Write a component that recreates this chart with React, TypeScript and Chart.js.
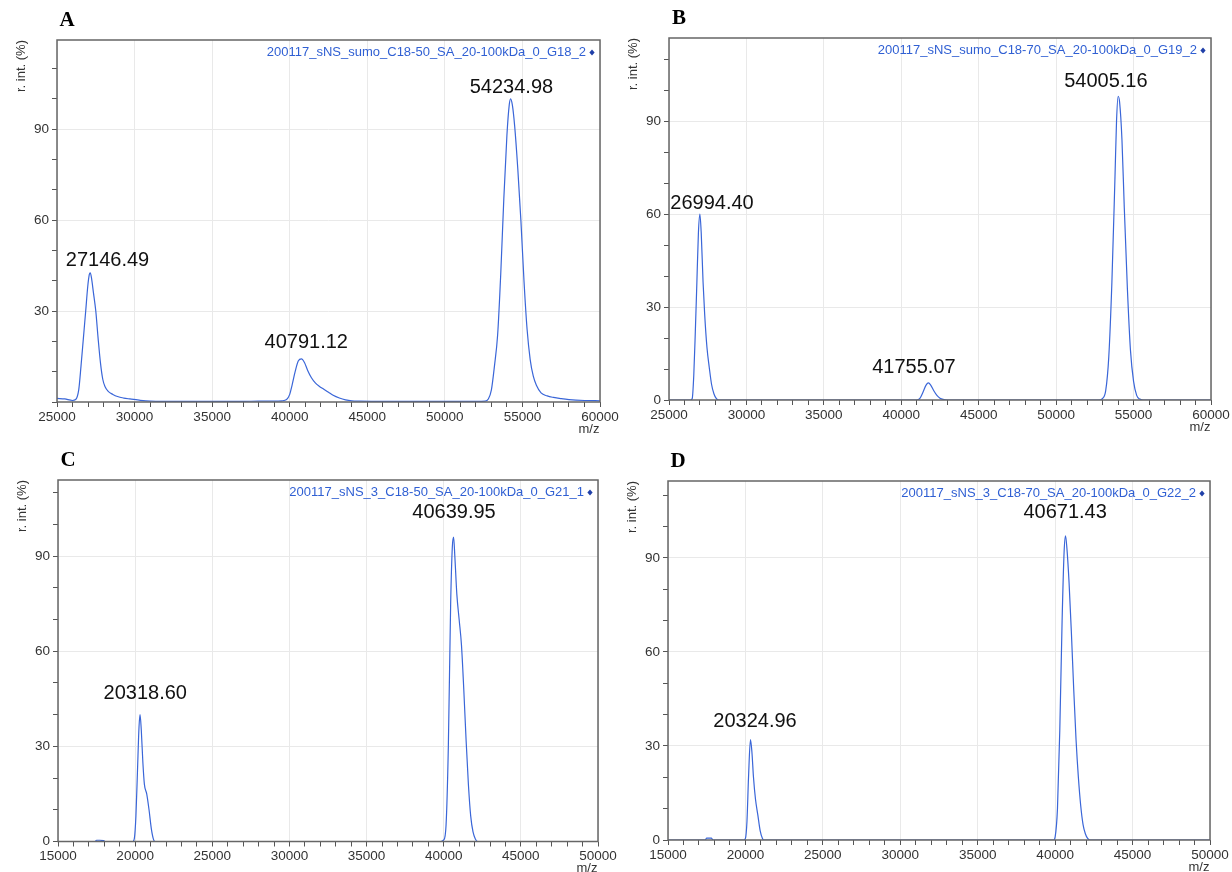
import React, { useEffect, useRef } from 'react';
import { Chart, registerables } from 'chart.js';
Chart.register(...registerables);

// ---------- Data ----------
const A_mz = [25000, 25500, 26000, 26200, 26400, 26550, 26700, 26850, 26980, 27080, 27146, 27220, 27350, 27500, 27650, 27800, 27950, 28100, 28300, 28600, 28900, 29300, 29700, 30300, 31000, 33000, 35000, 37000, 38000, 39000, 39500, 39800, 40000, 40150, 40350, 40550, 40760, 40950, 41150, 41400, 41650, 41900, 42200, 42500, 42800, 43200, 43600, 44000, 44500, 46000, 48000, 50000, 52000, 52600, 52800, 53000, 53200, 53400, 53600, 53800, 54000, 54150, 54235, 54350, 54500, 54700, 54900, 55100, 55300, 55500, 55700, 55900, 56200, 56600, 57000, 57500, 58000, 59000, 60000];
const A_int = [1.2, 1.0, 0.5, 0.8, 4, 12, 21, 30, 38, 42, 42.6, 41, 36, 30, 21, 13, 7.5, 5, 3.5, 2.5, 1.8, 1.3, 1.0, 0.6, 0.3, 0.2, 0.2, 0.2, 0.3, 0.3, 0.4, 0.8, 2.5, 5.5, 10, 13.5, 14.2, 13, 10.5, 8, 6.3, 5.2, 4.2, 3.2, 2.2, 1.3, 0.7, 0.4, 0.3, 0.2, 0.2, 0.2, 0.2, 0.3, 1, 4, 12, 22, 42, 67, 88, 98, 100, 98, 91, 77, 60, 40, 24, 14, 8.5, 5.5, 3, 2, 1.5, 1.1, 0.8, 0.5, 0.4];

const B_mz = [25000, 26400, 26500, 26600, 26700, 26800, 26900, 26994, 27080, 27200, 27300, 27450, 27600, 27750, 27900, 28050, 28200, 41000, 41200, 41400, 41600, 41755, 41900, 42100, 42300, 42500, 42700, 43000, 52800, 53000, 53200, 53400, 53600, 53800, 53900, 54005, 54100, 54250, 54400, 54600, 54800, 55000, 55200, 55400, 55600, 60000];
const B_int = [0, 0, 0.5, 8, 22, 38, 54, 60, 54, 38, 28, 17, 10.5, 5, 2, 0.5, 0, 0, 0.5, 2.5, 4.8, 5.5, 4.8, 3, 1.5, 0.6, 0.2, 0, 0, 0.5, 3, 14, 38, 72, 90, 98, 96, 84, 62, 36, 16, 6, 1.5, 0.3, 0, 0];

const C_mz = [15000, 17400, 17500, 17700, 17950, 18050, 19850, 19950, 20050, 20150, 20250, 20318, 20400, 20500, 20600, 20750, 20900, 21050, 21200, 21300, 39800, 40000, 40150, 40300, 40450, 40560, 40640, 40720, 40850, 41000, 41150, 41300, 41450, 41600, 41750, 41900, 42050, 42200, 50000];
const C_int = [0, 0, 0.4, 0.4, 0.3, 0, 0, 1, 8, 22, 36, 40, 35, 25, 18, 15, 10, 4, 0.5, 0, 0, 0.5, 5, 30, 75, 93, 96, 90, 78, 70, 62, 48, 32, 18, 8, 3, 0.8, 0, 0];

const D_mz = [15000, 17400, 17500, 17800, 17900, 19900, 20000, 20100, 20200, 20325, 20420, 20520, 20650, 20800, 20950, 21100, 21200, 39900, 40000, 40150, 40300, 40450, 40580, 40671, 40760, 40900, 41050, 41200, 41350, 41500, 41650, 41800, 41950, 42100, 42250, 50000];
const D_int = [0, 0, 0.6, 0.6, 0, 0, 0.5, 6, 20, 32, 28, 20, 13, 8, 3, 0.5, 0, 0, 1, 10, 35, 70, 92, 97, 93, 82, 66, 48, 32, 20, 11, 5, 2, 0.5, 0, 0];

const A_peaks = ['27146.49', '40791.12', '54234.98'];
const A_peakMz = [28256, 41065, 54290];
const A_peakInt = [46.7, 19.5, 103.6];
const B_peaks = ['26994.40', '41755.07', '54005.16'];
const B_peakMz = [27776, 40817, 53211];
const B_peakInt = [63.5, 10.6, 102.7];
const C_peaks = ['20318.60', '40639.95'];
const C_peakMz = [20654, 40667];
const C_peakInt = [46.8, 103.9];
const D_peaks = ['20324.96', '40671.43'];
const D_peakMz = [20620, 40646];
const D_peakInt = [37.8, 104.3];

const letters = ['A', 'B', 'C', 'D'];
const legendNames = [
  '200117_sNS_sumo_C18-50_SA_20-100kDa_0_G18_2',
  '200117_sNS_sumo_C18-70_SA_20-100kDa_0_G19_2',
  '200117_sNS_3_C18-50_SA_20-100kDa_0_G21_1',
  '200117_sNS_3_C18-70_SA_20-100kDa_0_G22_2',
];
const xMins = [25000, 25000, 15000, 15000];
const xMaxs = [60000, 60000, 50000, 50000];
const yMaxs = [119.4, 116.8, 114, 114.5];
const yLabelSets = [[30, 60, 90], [0, 30, 60, 90], [0, 30, 60, 90], [0, 30, 60, 90]];
const yTickValues = [0, 10, 20, 30, 40, 50, 60, 70, 80, 90, 100, 110];
const xMinorStep = 1000;
const xMajorStep = 5000;

// ---------- Layout (each canvas covers the full 1232x872 page) ----------
const W = 1232;
const H = 872;
const paddings = [
  { left: 7, top: 40, right: 632, bottom: 440 },
  { left: 619, top: 38, right: 21, bottom: 442 },
  { left: 8, top: 480, right: 634, bottom: 0.5 },
  { left: 618, top: 481, right: 22, bottom: 2 },
];

const SANS = '"Liberation Sans", Arial, Helvetica, sans-serif';
const SERIF = '"Liberation Serif", "Times New Roman", serif';
const LINE_COLOR = '#3a66d8';
const LEGEND_COLOR = '#2f5fd3';

const panels = [
  { mz: A_mz, int: A_int, peaks: A_peaks, peakMz: A_peakMz, peakInt: A_peakInt },
  { mz: B_mz, int: B_int, peaks: B_peaks, peakMz: B_peakMz, peakInt: B_peakInt },
  { mz: C_mz, int: C_int, peaks: C_peaks, peakMz: C_peakMz, peakInt: C_peakInt },
  { mz: D_mz, int: D_int, peaks: D_peaks, peakMz: D_peakMz, peakInt: D_peakInt },
];

function makeChart(canvas: HTMLCanvasElement, i: number) {
  const p = panels[i];
  const xMin = xMins[i];
  const xMax = xMaxs[i];
  const yMax = yMaxs[i];
  const yLabels = yLabelSets[i];
  const xTicks: number[] = [];
  for (let v = xMin; v <= xMax; v += xMinorStep) xTicks.push(v);
  const yTicks = yTickValues.filter((v) => v <= yMax);

  const textPlugin = {
    id: 'panelText' + i,
    afterDatasetsDraw(chart: any) {
      const a = chart.chartArea;
      const ctx = chart.ctx;
      ctx.save();
      ctx.strokeStyle = '#666';
      ctx.lineWidth = 1.5;
      ctx.strokeRect(a.left, a.top, a.right - a.left, a.bottom - a.top);
      ctx.restore();
    },
    afterDraw(chart: any) {
      const a = chart.chartArea;
      const ctx = chart.ctx;
      const xs = chart.scales.x;
      const ys = chart.scales.y;
      ctx.save();
      // panel letter
      ctx.fillStyle = '#000';
      ctx.font = 'bold 21px ' + SERIF;
      ctx.textAlign = 'center';
      ctx.textBaseline = 'middle';
      ctx.fillText(letters[i], a.left + 10, a.top - 19);
      // y title
      ctx.save();
      ctx.translate(a.left - 36, a.top);
      ctx.rotate(-Math.PI / 2);
      ctx.font = '13px ' + SANS;
      ctx.fillStyle = '#333';
      ctx.textAlign = 'right';
      ctx.textBaseline = 'middle';
      ctx.fillText('r. int. (%)', 0, 0);
      ctx.restore();
      // x title
      ctx.font = '13px ' + SANS;
      ctx.fillStyle = '#333';
      ctx.textAlign = 'center';
      ctx.textBaseline = 'middle';
      ctx.fillText('m/z', a.right - 11, a.bottom + 27);
      // legend
      ctx.font = '13px ' + SANS;
      ctx.fillStyle = LEGEND_COLOR;
      ctx.textAlign = 'right';
      ctx.textBaseline = 'middle';
      const ly = a.top + 12.5;
      ctx.fillText(legendNames[i], a.right - 14, ly);
      const dx = a.right - 8;
      ctx.fillStyle = '#1f3fa8';
      ctx.beginPath();
      ctx.moveTo(dx, ly - 3);
      ctx.lineTo(dx + 2.6, ly);
      ctx.lineTo(dx, ly + 3);
      ctx.lineTo(dx - 2.6, ly);
      ctx.closePath();
      ctx.fill();
      // peak labels
      ctx.font = '20px ' + SANS;
      ctx.fillStyle = '#111';
      ctx.textAlign = 'center';
      ctx.textBaseline = 'middle';
      p.peaks.forEach((t, k) => {
        ctx.fillText(t, xs.getPixelForValue(p.peakMz[k]), ys.getPixelForValue(p.peakInt[k]));
      });
      ctx.restore();
    },
  };

  const data = p.mz.map((m, k) => ({ x: m, y: p.int[k] }));

  return new Chart(canvas, {
    type: 'line',
    data: {
      datasets: [
        {
          data,
          borderColor: LINE_COLOR,
          borderWidth: 1.2,
          pointRadius: 0,
          fill: false,
          cubicInterpolationMode: 'monotone',
        },
      ],
    },
    options: {
      animation: false,
      responsive: false,
      maintainAspectRatio: false,
      devicePixelRatio: 1,
      events: [],
      layout: { padding: paddings[i] },
      plugins: { legend: { display: false }, tooltip: { enabled: false } },
      scales: {
        x: {
          type: 'linear',
          min: xMin,
          max: xMax,
          border: { display: false },
          afterBuildTicks: (s: any) => {
            s.ticks = xTicks.map((v) => ({ value: v }));
          },
          afterFit: (s: any) => {
            s.height = 30;
            s.paddingLeft = 0;
            s.paddingRight = 0;
          },
          grid: {
            color: (c: any) => (c.tick && c.tick.value % xMajorStep === 0 ? '#e9e9e9' : 'rgba(0,0,0,0)'),
            tickColor: '#555',
            tickLength: 5,
            lineWidth: 1,
          },
          ticks: {
            autoSkip: false,
            maxRotation: 0,
            padding: 2,
            color: '#333',
            font: { family: SANS, size: 13.5 },
            callback: (v: any) => (Number(v) % xMajorStep === 0 ? String(v) : ''),
          },
        },
        y: {
          type: 'linear',
          min: 0,
          max: yMax,
          border: { display: false },
          afterBuildTicks: (s: any) => {
            s.ticks = yTicks.map((v) => ({ value: v }));
          },
          afterFit: (s: any) => {
            s.width = 50;
            s.paddingTop = 0;
            s.paddingBottom = 0;
          },
          grid: {
            color: (c: any) => (c.tick && yLabels.includes(c.tick.value) && c.tick.value !== 0 ? '#e9e9e9' : 'rgba(0,0,0,0)'),
            tickColor: '#555',
            tickLength: 5,
            lineWidth: 1,
          },
          ticks: {
            autoSkip: false,
            padding: 3,
            color: '#333',
            font: { family: SANS, size: 13.5 },
            callback: (v: any) => (yLabels.includes(Number(v)) ? String(v) : ''),
          },
        },
      },
    },
    plugins: [textPlugin],
  } as any);
}

export default function App() {
  const refs = [useRef<HTMLCanvasElement>(null), useRef<HTMLCanvasElement>(null), useRef<HTMLCanvasElement>(null), useRef<HTMLCanvasElement>(null)];
  useEffect(() => {
    const charts = refs.map((r, i) => makeChart(r.current as HTMLCanvasElement, i));
    return () => charts.forEach((c) => c.destroy());
  }, []);
  return (
    <div style={{ position: 'absolute', left: 0, top: 0, width: W, height: H, background: '#fff' }}>
      {refs.map((r, i) => (
        <canvas
          key={i}
          ref={r}
          width={W}
          height={H}
          style={{ position: 'absolute', left: 0, top: 0, width: W, height: H }}
        />
      ))}
    </div>
  );
}
